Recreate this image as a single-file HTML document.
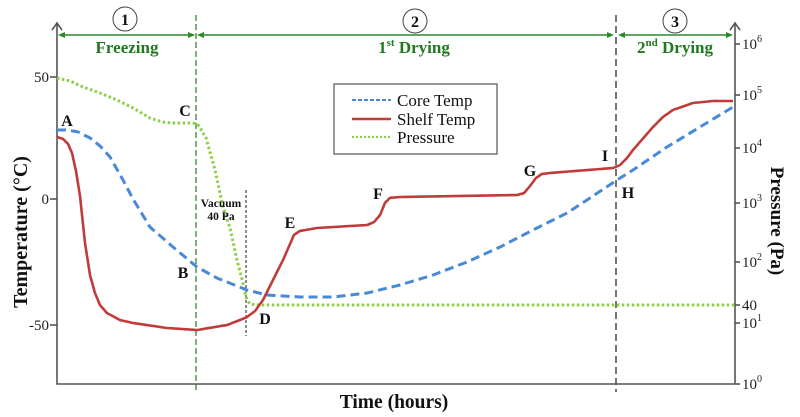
<!DOCTYPE html>
<html><head><meta charset="utf-8"><style>
html,body{margin:0;padding:0;background:#fff;}
svg{display:block;}
text{font-family:"Liberation Serif",serif;}
</style></head><body>
<svg width="800" height="417" viewBox="0 0 800 417" xmlns="http://www.w3.org/2000/svg">
<rect width="800" height="417" fill="#fff"/>
<!-- vertical phase lines -->
<line x1="196" y1="15" x2="196" y2="392" stroke="#2e8b2e" stroke-width="1.3" stroke-dasharray="6,3"/>
<line x1="616" y1="15" x2="616" y2="392" stroke="#666" stroke-width="1.8" stroke-dasharray="7,4"/>
<line x1="246" y1="190" x2="246" y2="336" stroke="#444" stroke-width="1.2" stroke-dasharray="3,2"/>
<!-- axes -->
<g stroke="#555" stroke-width="1.6" fill="none">
<polyline points="57,23 57,384 735,384"/>
<line x1="735" y1="23" x2="735" y2="384"/>
<polyline points="52,30 57,23 62,30"/>
<polyline points="730,30 735,23 740,30"/>
<line x1="50" y1="77" x2="57" y2="77"/>
<line x1="50" y1="199" x2="57" y2="199"/>
<line x1="50" y1="325" x2="57" y2="325"/>
<line x1="735" y1="44" x2="740" y2="44"/>
<line x1="735" y1="95" x2="740" y2="95"/>
<line x1="735" y1="148" x2="740" y2="148"/>
<line x1="735" y1="203" x2="740" y2="203"/>
<line x1="735" y1="262" x2="740" y2="262"/>
<line x1="735" y1="305" x2="740" y2="305"/>
<line x1="735" y1="323" x2="740" y2="323"/>
<line x1="735" y1="384" x2="740" y2="384"/>
</g>
<!-- left tick labels -->
<g font-size="15" fill="#222" text-anchor="end">
<text x="49" y="82">50</text>
<text x="49" y="204">0</text>
<text x="49" y="330">-50</text>
</g>
<!-- right tick labels -->
<g font-size="15" fill="#222">
<text x="742" y="49">10<tspan font-size="10" dy="-7">6</tspan></text>
<text x="742" y="100">10<tspan font-size="10" dy="-7">5</tspan></text>
<text x="742" y="153">10<tspan font-size="10" dy="-7">4</tspan></text>
<text x="742" y="208">10<tspan font-size="10" dy="-7">3</tspan></text>
<text x="742" y="267">10<tspan font-size="10" dy="-7">2</tspan></text>
<text x="742" y="310">40</text>
<text x="742" y="328">10<tspan font-size="10" dy="-7">1</tspan></text>
<text x="742" y="389">10<tspan font-size="10" dy="-7">0</tspan></text>
</g>
<!-- axis titles -->
<text x="394" y="408" font-size="19.5" font-weight="bold" text-anchor="middle" fill="#111">Time (hours)</text>
<text transform="translate(27,232) rotate(-90)" font-size="20" font-weight="bold" text-anchor="middle" fill="#111">Temperature (°C)</text>
<text transform="translate(771,221) rotate(90)" font-size="19" font-weight="bold" text-anchor="middle" fill="#111">Pressure (Pa)</text>
<!-- phase arrows -->
<g stroke="#2a8a2a" stroke-width="1.4" fill="#2a8a2a">
<line x1="60" y1="35" x2="194" y2="35"/>
<polygon points="58,35 65,32 65,38" stroke="none"/>
<polygon points="195,35 188,32 188,38" stroke="none"/>
<line x1="199" y1="35" x2="612" y2="35"/>
<polygon points="197,35 204,32 204,38" stroke="none"/>
<polygon points="614,35 607,32 607,38" stroke="none"/>
<line x1="620" y1="35" x2="731" y2="35"/>
<polygon points="618,35 625,32 625,38" stroke="none"/>
<polygon points="733,35 726,32 726,38" stroke="none"/>
</g>
<g font-size="17" font-weight="bold" fill="#1f7a1f" text-anchor="middle">
<text x="127" y="53">Freezing</text>
<text x="414" y="53">1<tspan font-size="11" dy="-7">st</tspan><tspan dy="7"> Drying</tspan></text>
<text x="675" y="53">2<tspan font-size="11" dy="-7">nd</tspan><tspan dy="7"> Drying</tspan></text>
</g>
<!-- circles -->
<g stroke="#444" stroke-width="1" fill="#fff">
<circle cx="125" cy="19" r="12"/>
<circle cx="415" cy="21" r="12"/>
<circle cx="675" cy="21" r="12"/>
</g>
<g font-size="16" font-weight="bold" fill="#111" text-anchor="middle">
<text x="125" y="25">1</text>
<text x="415" y="27">2</text>
<text x="675" y="27">3</text>
</g>
<!-- series -->
<polyline class="sm" fill="none" stroke="#8ccf45" stroke-width="3" stroke-dasharray="2.5,2.5" points="57,78 70,81 83,87 100,93 117,100 133,108 150,118 163,122 173,123 193,123 199,126 206,138 215,170 223,207 230,228 237,260 243,283 246,297 250,304 257,305 734,305"/>
<polyline class="sm" fill="none" stroke="#4a89d8" stroke-width="3" stroke-dasharray="9,5" stroke-linejoin="round" points="57,130 67,130 78,132 90,138 100,146 110,157 123,180 133,199 150,227 173,247 197,267 217,278 247,290 267,295 300,297 333,297 367,293 400,285 433,275 467,262 500,247 533,230 567,213 587,200 617,180 633,170 667,147 700,127 733,107"/>
<polyline class="sm" fill="none" stroke="#c23b3b" stroke-width="2.6" stroke-linejoin="round" points="57,137 63,139 68,144 72,153 76,171 80,196 85,243 90,275 95,293 100,305 107,313 120,320 133,323 167,328 197,330 227,325 240,320 247,317 255,311 263,300 283,260 294,235 300,231 317,228 367,225 374,222 380,215 385,203 390,198 400,197 517,195 524,193 530,186 536,178 542,174 550,173 613,168 620,165 627,158 633,150 653,127 663,117 673,110 693,103 713,101 733,101"/>
<!-- vacuum label -->
<g font-size="11.5" font-weight="bold" fill="#111" text-anchor="middle">
<text x="221" y="207">Vacuum</text>
<text x="221" y="220">40 Pa</text>
</g>
<!-- point letters -->
<g font-size="16" font-weight="bold" fill="#111" text-anchor="middle">
<text x="67" y="126">A</text>
<text x="185" y="116">C</text>
<text x="183" y="278">B</text>
<text x="265" y="324">D</text>
<text x="290" y="228">E</text>
<text x="378" y="199">F</text>
<text x="530" y="176">G</text>
<text x="605" y="161">I</text>
<text x="628" y="198">H</text>
</g>
<!-- legend -->
<rect x="334" y="84" width="163" height="70" fill="#fff" stroke="#555" stroke-width="1.2"/>
<line x1="352" y1="100" x2="391" y2="100" stroke="#4a89d8" stroke-width="2" stroke-dasharray="4,2"/>
<line x1="352" y1="119" x2="391" y2="119" stroke="#c23b3b" stroke-width="2.4"/>
<line x1="352" y1="137" x2="391" y2="137" stroke="#8ccf45" stroke-width="2.2" stroke-dasharray="2,2"/>
<g font-size="17" fill="#111">
<text x="397" y="106">Core Temp</text>
<text x="397" y="125">Shelf Temp</text>
<text x="397" y="143">Pressure</text>
</g>
</svg>
<script>
(function(){
var ns="http://www.w3.org/2000/svg";
var pls=document.querySelectorAll("polyline.sm");
for(var k=0;k<pls.length;k++){
var pl=pls[k];
var raw=pl.getAttribute("points").trim().split(/\s+/).map(function(s){var a=s.split(",");return [parseFloat(a[0]),parseFloat(a[1])];});
/* densify so that neighbouring segments have similar lengths (prevents overshoot) */
var pts=[raw[0]];
for(var q=0;q<raw.length-1;q++){
var a=raw[q],b=raw[q+1];
var len=Math.sqrt((b[0]-a[0])*(b[0]-a[0])+(b[1]-a[1])*(b[1]-a[1]));
var n=Math.max(1,Math.ceil(len/6));
for(var m=1;m<=n;m++){pts.push([a[0]+(b[0]-a[0])*m/n,a[1]+(b[1]-a[1])*m/n]);}
}
var d="M"+pts[0][0]+","+pts[0][1];
for(var i=0;i<pts.length-1;i++){
var p0=pts[i>0?i-1:i],p1=pts[i],p2=pts[i+1],p3=pts[i+2<pts.length?i+2:i+1];
var c1x=p1[0]+(p2[0]-p0[0])/6,c1y=p1[1]+(p2[1]-p0[1])/6;
var c2x=p2[0]-(p3[0]-p1[0])/6,c2y=p2[1]-(p3[1]-p1[1])/6;
d+=" C"+c1x.toFixed(2)+","+c1y.toFixed(2)+" "+c2x.toFixed(2)+","+c2y.toFixed(2)+" "+p2[0].toFixed(2)+","+p2[1].toFixed(2);
}
var path=document.createElementNS(ns,"path");
var attrs=["fill","stroke","stroke-width","stroke-dasharray","stroke-linejoin"];
for(var j=0;j<attrs.length;j++){var v=pl.getAttribute(attrs[j]);if(v)path.setAttribute(attrs[j],v);}
path.setAttribute("d",d);
pl.parentNode.replaceChild(path,pl);
}
})();
</script>
</body></html>
